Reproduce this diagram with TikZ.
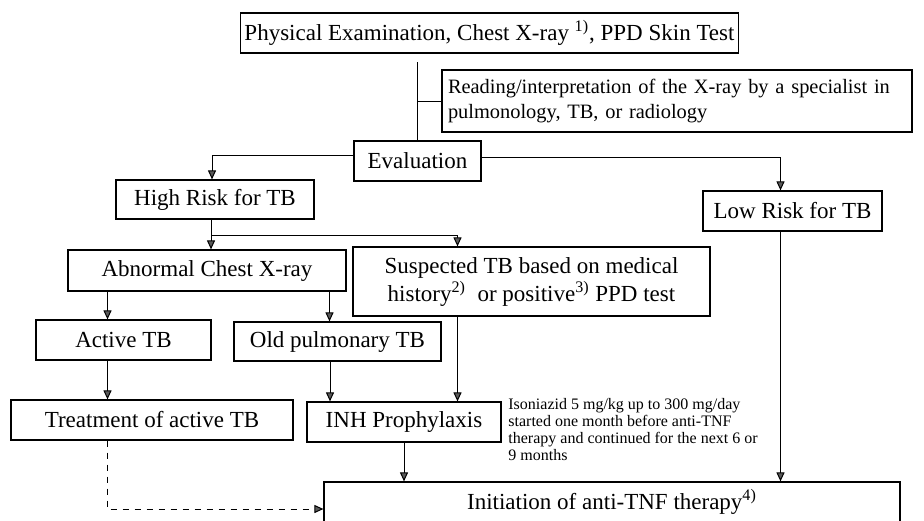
\documentclass[tikz,border=0pt]{standalone}
\usepackage{fontspec}
\setmainfont{Liberation Serif}
\usetikzlibrary{positioning,calc,arrows.meta}
\tikzset{
    % boxes of the flow chart
    flowbox/.style={draw, rectangle, align=center, inner sep=2pt,
                    line width=0.6pt,
                    font=\fontsize{11.5}{14}\selectfont},
    readbox/.style={draw, rectangle, align=left, inner xsep=3pt, inner ysep=4pt,
                    line width=0.6pt, text width=229pt,
                    font=\fontsize{10.2}{12.5}\selectfont},
    % small note next to the prophylaxis box
    notetext/.style={align=left, inner sep=0pt, anchor=north west,
                     font=\fontsize{8}{8.5}\selectfont},
    % connectors
    link/.style={line width=0.5pt},
    arr/.style={link, -{Triangle[length=4.5pt,width=4pt,fill=gray!70!black]}}
}

\begin{document}
\begin{tikzpicture}[x=0.5pt,y=-0.5pt]
    \useasboundingbox (0,0) rectangle (924,520);
    % boxes
    \node[flowbox, minimum width=222.5pt, minimum height=20pt] (phys) at (489.5,33)
        {Physical Examination, Chest X-ray \textsuperscript{1)}, PPD Skin Test};
    \node[readbox, minimum height=31pt] (reading) at (677,101)
        {Reading/interpretation of the X-ray by a specialist in\\
         pulmonology, TB, or radiology};
    \node[flowbox, minimum width=63.5pt, minimum height=20pt] (eval) at (417.5,161) {Evaluation};
    \node[flowbox, minimum width=99pt, minimum height=19.5pt] (highrisk) at (215,199.5) {High Risk for TB};
    \node[flowbox, minimum width=89.5pt, minimum height=20pt] (lowrisk) at (792.5,211) {Low Risk for TB};
    \node[flowbox, minimum width=139pt, minimum height=20.5pt] (abnormal) at (207,270.5) {Abnormal Chest X-ray};
    \node[flowbox, minimum width=178.5pt, minimum height=34.5pt] (suspected) at (531.5,281.5)
        {Suspected TB based on medical\\
         history\textsuperscript{2)}\ \ or positive\textsuperscript{3)} PPD test};
    \node[flowbox, minimum width=87.5pt, minimum height=20pt] (active) at (123.5,340) {Active TB};
    \node[flowbox, minimum width=103.5pt, minimum height=19.5pt] (oldtb) at (337.5,341.5) {Old pulmonary TB};
    \node[flowbox, minimum width=141pt, minimum height=20pt] (treat) at (152,420) {Treatment of active TB};
    \node[flowbox, minimum width=97pt, minimum height=20pt] (inh) at (404,422) {INH Prophylaxis};
    \node[flowbox, minimum width=288pt, minimum height=20pt] (initiation) at (612,502)
        {Initiation of anti-TNF therapy\textsuperscript{4)}};
    \node[notetext] (note) at (508,398)
        {Isoniazid 5 mg/kg up to 300 mg/day\\
         started one month before anti-TNF\\
         therapy and continued for the next 6 or\\
         9 months};

    % connectors
    \draw[link, shorten >=4pt] (eval.north) -- (eval.north |- phys.south);
    \draw[link] (reading.west) -- (reading.west -| eval.north);
    \draw[arr] ([yshift=3pt]eval.west) -| ([xshift=-1.5pt]highrisk.north);
    \draw[arr] ([yshift=2pt]eval.east) -| ([xshift=-6pt]lowrisk.north);
    \draw[arr] ([xshift=-2pt]highrisk.south) -- ([xshift=-2pt]highrisk.south |- abnormal.north);
    \draw[arr] ([xshift=-2pt]highrisk.south) |- ([xshift=-37pt]suspected.north |- 0,235)
        -- ([xshift=-37pt]suspected.north);
    \draw[arr] ([xshift=-8pt]active.north |- abnormal.south) -- ([xshift=-8pt]active.north);
    \draw[arr] ([xshift=-4pt]oldtb.north |- abnormal.south) -- ([xshift=-4pt]oldtb.north);
    \draw[arr] ([xshift=-8pt]active.south) -- ([xshift=-8pt]active.south |- treat.north);
    \draw[arr] ([xshift=-37pt]inh.north |- oldtb.south) -- ([xshift=-37pt]inh.north);
    \draw[arr] ([xshift=-37pt]suspected.south) -- ([xshift=-37pt]suspected.south |- inh.north);
    \draw[arr] (inh.south) -- (inh.south |- initiation.north);
    \draw[arr] ([xshift=-6pt]lowrisk.south) -- ([xshift=-6pt]lowrisk.south |- initiation.north);
    \draw[arr, dashed] ([xshift=-22.5pt]treat.south) |- ([yshift=-3.5pt]initiation.west);
\end{tikzpicture}
\end{document}
